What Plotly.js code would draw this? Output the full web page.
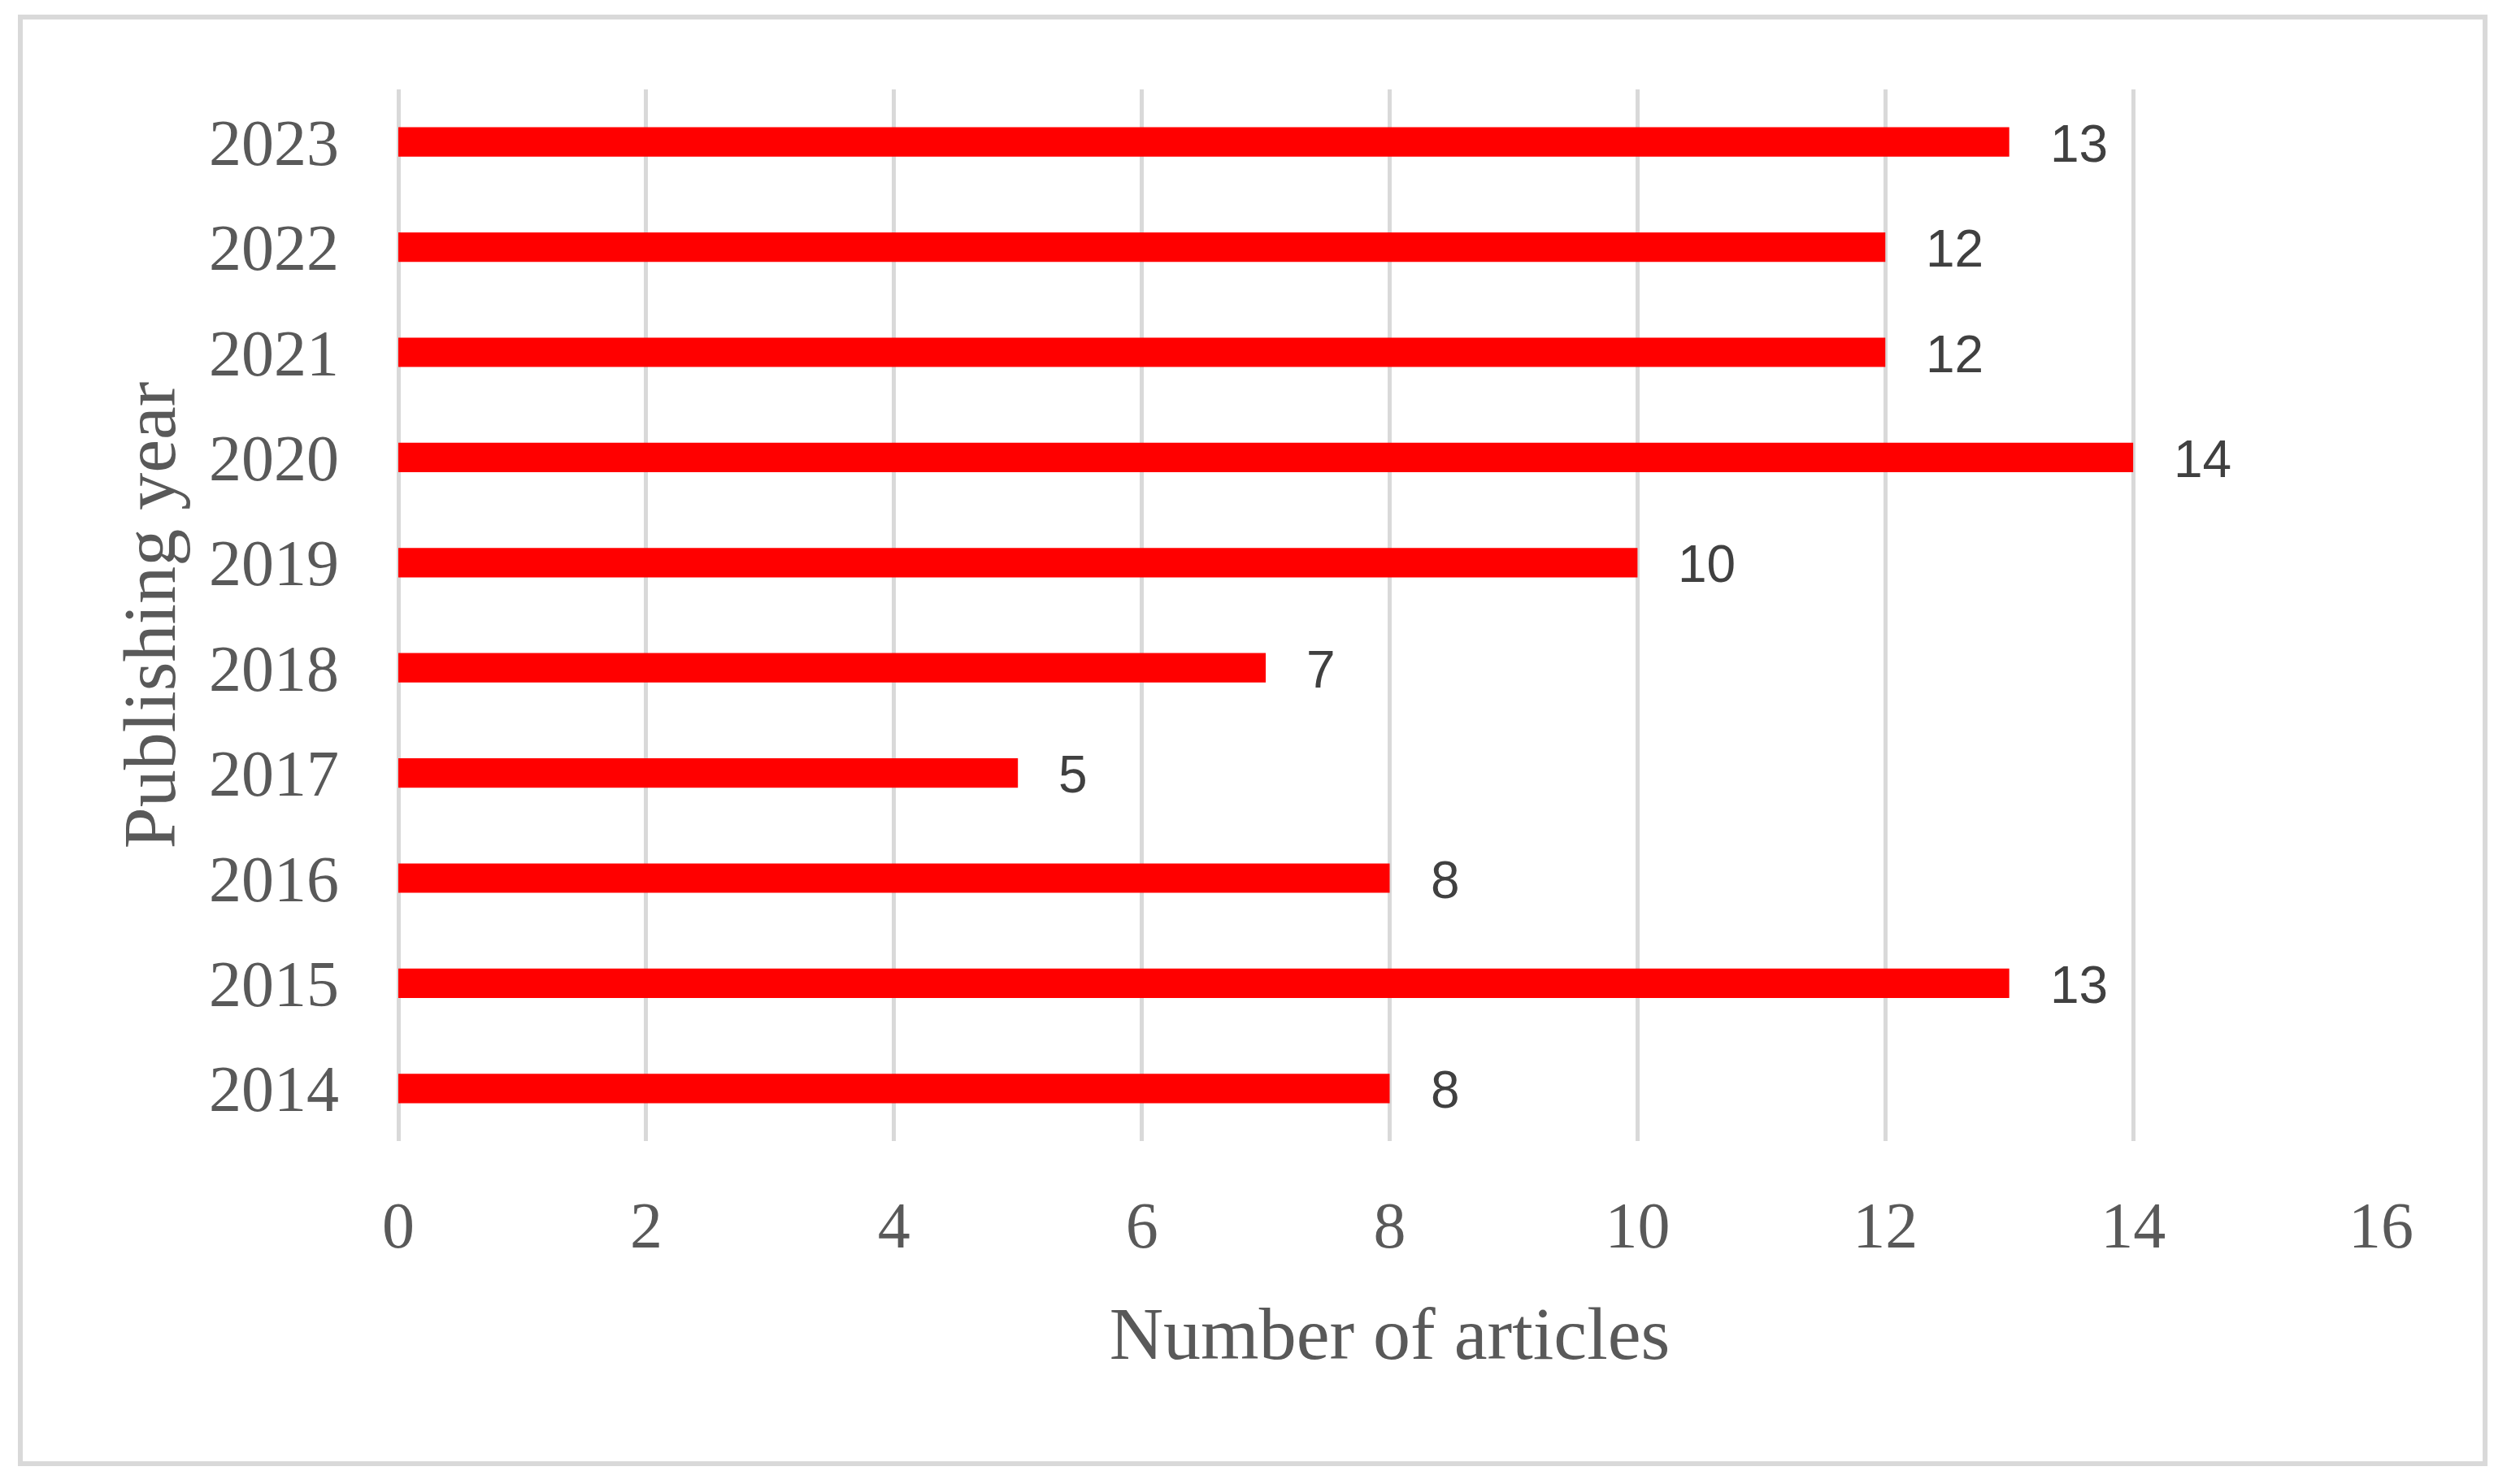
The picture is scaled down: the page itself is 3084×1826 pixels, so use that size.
<!DOCTYPE html>
<html>
<head>
<meta charset="utf-8">
<script src="https://cdn.plot.ly/plotly-3.0.1.min.js"></script>
<style>
  html, body { margin: 0; padding: 0; background: #ffffff; }
  #chart { width: 3084px; height: 1826px; }
  #frame { position: absolute; left: 22px; top: 18px; width: 3026px; height: 1774px;
           border: 6px solid #d9d9d9; pointer-events: none; }
</style>
</head>
<body>
<div id="chart"></div>
<div id="frame"></div>
<script>
const years = [2014, 2015, 2016, 2017, 2018, 2019, 2020, 2021, 2022, 2023];
const articles = [8, 13, 8, 5, 7, 10, 14, 12, 12, 13];
const xTicks = [0, 2, 4, 6, 8, 10, 12, 14, 16];
const xTitle = "Number of articles";
const yTitle = "Publishing year";

const serif = "Liberation Serif, DejaVu Serif, serif";
const labelFont = "Liberation Sans Narrow, Liberation Sans, Open Sans, sans-serif";

const trace = {
  type: "bar",
  orientation: "h",
  x: articles,
  y: years,
  width: 0.28,
  marker: { color: "#ff0000", line: { width: 0 } },
  hoverinfo: "none"
};

const annotations = years.map((yr, i) => ({
  x: articles[i], y: yr, xref: "x", yref: "y",
  text: String(articles[i]), showarrow: false,
  xanchor: "left", yanchor: "middle", xshift: 48, yshift: -2,
  font: { family: labelFont, size: 64, color: "#404040" }
}));

const layout = {
  width: 3084, height: 1826,
  margin: { l: 490, r: 155, t: 110, b: 422 },
  paper_bgcolor: "#ffffff", plot_bgcolor: "#ffffff",
  showlegend: false,
  xaxis: {
    range: [0, 16],
    tickvals: xTicks,
    ticktext: xTicks.map(String),
    showgrid: true, gridcolor: "#d9d9d9", gridwidth: 5,
    zeroline: true, zerolinecolor: "#d9d9d9", zerolinewidth: 5,
    showline: false, ticks: "",
    ticklabelstandoff: 50,
    tickfont: { family: serif, size: 80, color: "#595959" },
    title: { text: xTitle, standoff: 56, font: { family: serif, size: 92, color: "#595959" } },
    fixedrange: true
  },
  yaxis: {
    range: [2013.5, 2023.5],
    tickvals: years,
    ticktext: years.map(String),
    showgrid: false, zeroline: false, showline: false, ticks: "",
    ticklabelstandoff: 72,
    tickfont: { family: serif, size: 80, color: "#595959" },
    title: { text: yTitle, standoff: 10, font: { family: serif, size: 92, color: "#595959" } },
    fixedrange: true
  },
  annotations: annotations
};

Plotly.newPlot("chart", [trace], layout, { staticPlot: true, displayModeBar: false });
</script>
</body>
</html>
